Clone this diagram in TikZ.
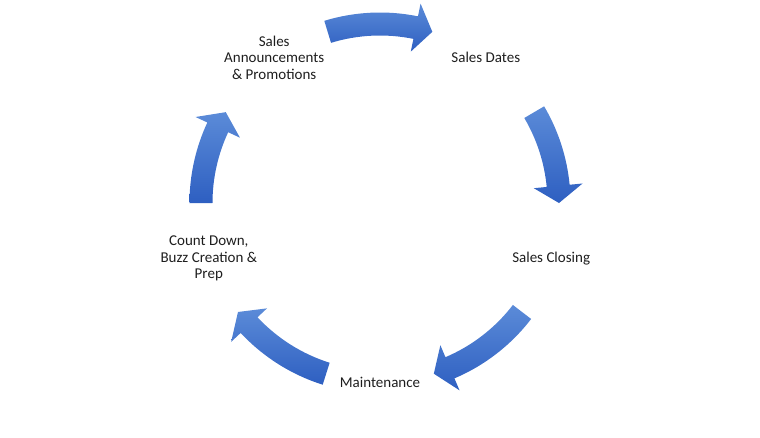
\documentclass[tikz,border=0pt]{standalone}
\usepackage{fontspec}
\setmainfont{Carlito}
\definecolor{arrowtop}{HTML}{5B8BD8}
\definecolor{arrowbot}{HTML}{2E5FC1}
\definecolor{labeltext}{HTML}{1E1E1E}
\tikzset{
	steplabel/.style={align=center, text=labeltext, inner sep=0pt,
		font=\fontsize{15}{16.5}\selectfont},
	cyclearrow/.style={draw=none, top color=arrowtop, bottom color=arrowbot}
}
\begin{document}
\begin{tikzpicture}[x=1pt,y=1pt]
	\useasboundingbox (-380,-234) rectangle (380,203);
	% block arrows, clockwise from tail angle to tip angle
	\foreach \a/\b in {107/73, 30.5/0, -37.5/-72.5, -107.5/-142.5, 180/149.5}
		{
		\path[cyclearrow] (\a:190.5) arc[start angle=\a, end angle=\b+5.5, radius=190.5]
			-- (\b+5.5:203.5) -- (\b:179) -- (\b+5.5:154.5) -- (\b+5.5:167.5)
			arc[start angle=\b+5.5, end angle=\a, radius=167.5] -- cycle;
		}
	\node[steplabel] (announce) at (126:180) {Sales\\Announcements\\\& Promotions};
	\node[steplabel] (dates) at (54:180) {Sales Dates};
	\node[steplabel] (closing) at (-18:180) {Sales Closing};
	\node[steplabel] (maint) at (-90:179) {Maintenance};
	\node[steplabel] (countdown) at (198:180) {Count Down,\\Buzz Creation \&\\Prep};
\end{tikzpicture}
\end{document}
